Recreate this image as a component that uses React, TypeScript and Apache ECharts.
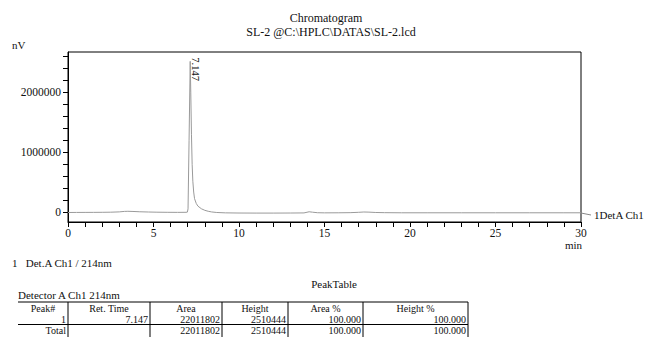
import React, { useEffect, useRef } from "react";
import * as echarts from "echarts";

// ---- data ----
const times = [0, 0.5, 1, 1.5, 2, 2.5, 3, 3.3, 3.5, 3.8, 4.2, 4.7, 5.2, 5.8, 6.4, 6.9, 6.98, 7.02, 7.08, 7.147, 7.18, 7.22, 7.26, 7.3, 7.35, 7.4, 7.5, 7.6, 7.8, 8.0, 8.2, 8.4, 8.7, 9.2, 10, 11, 12, 13, 13.8, 14.1, 14.3, 14.6, 15, 15.8, 16.5, 17, 17.3, 17.6, 18, 18.5, 19.5, 21, 23, 25, 27, 29, 30];
const signal = [0, 1000, 1500, 2000, 3000, 5000, 10000, 18000, 20000, 17000, 12000, 8000, 5000, 3000, 2000, 3000, 6000, 60000, 1200000, 2510444, 2000000, 1300000, 800000, 520000, 340000, 230000, 150000, 105000, 62000, 36000, 20000, 9000, 0, -6000, -9000, -10000, -10000, -9000, -7000, 12000, 5000, -4000, -6000, -5000, -3000, 3000, 8000, 6000, 0, -3000, -5000, -5000, -5000, -5000, -5000, -5000, -5000];
const peakTime = 7.147;
const peakHeight = 2510444;
const yLabelValues = [0, 1000000, 2000000];
const yTickValues = [0, 200000, 400000, 600000, 800000, 1000000, 1200000, 1400000, 1600000, 1800000, 2000000, 2200000, 2400000, 2600000];
const xTickValues = Array.from({ length: 31 }, (_, i) => i);

const titleLines = ["Chromatogram", "SL-2 @C:\\HPLC\\DATAS\\SL-2.lcd"];
const channelName = "1DetA Ch1";
const detectorNote = "1   Det.A Ch1 / 214nm";
const tableTitle = "PeakTable";
const tableDetector = "Detector A Ch1 214nm";
const tableHeaders = ["Peak#", "Ret. Time", "Area", "Height", "Area %", "Height %"];
const tableRow1 = ["1", "7.147", "22011802", "2510444", "100.000", "100.000"];
const tableTotal = ["Total", "", "22011802", "2510444", "100.000", "100.000"];

const FONT = "Liberation Serif";

export default function App() {
  const ref = useRef<HTMLDivElement>(null);
  useEffect(() => {
    if (!ref.current) return;
    const chart = echarts.init(ref.current, null, { renderer: "svg" });

    const colX = [18, 68, 150, 222, 288, 363, 468];
    const tTop = 302;
    const tBottom = 337;
    const headerY = 308.5;
    const row1Y = 319;
    const midLineY = 324.5;
    const totalY = 330.5;
    const txt = (text: string, x: number, y: number, align: string, size = 11) => ({
      type: "text",
      x,
      y,
      silent: true,
      style: { text, fill: "#111", fontFamily: FONT, fontSize: size, align, verticalAlign: "middle" },
    });
    const line = (x1: number, y1: number, x2: number, y2: number, color = "#000") => ({
      type: "line",
      silent: true,
      shape: { x1, y1, x2, y2 },
      style: { stroke: color, lineWidth: 1 },
    });

    const graphics: any[] = [];
    graphics.push(txt(titleLines[0], 326, 18, "center", 12));
    graphics.push(txt(titleLines[1], 331, 32, "center", 12));
    graphics.push(txt("nV", 12, 45, "left"));
    graphics.push(txt("min", 582, 245, "right"));
    graphics.push(line(581, 213, 591, 215, "#888"));
    graphics.push(txt(channelName, 594, 215, "left"));
    graphics.push(txt(detectorNote, 12, 263, "left"));
    graphics.push(txt(tableTitle, 334, 284, "center"));
    graphics.push(txt(tableDetector, 18, 295, "left"));
    graphics.push(line(colX[0], tTop, colX[6], tTop));
    graphics.push(line(colX[0], midLineY, colX[6], midLineY));
    for (let i = 1; i < colX.length; i++) graphics.push(line(colX[i], tTop, colX[i], tBottom));
    tableHeaders.forEach((h, i) => graphics.push(txt(h, (colX[i] + colX[i + 1]) / 2, headerY, "center", 10)));
    tableRow1.forEach((v, i) => { if (v) graphics.push(txt(v, colX[i + 1] - 2, row1Y, "right", 10)); });
    tableTotal.forEach((v, i) => { if (v) graphics.push(txt(v, colX[i + 1] - 2, totalY, "right", 10)); });

    chart.setOption({
      animation: false,
      grid: { left: 68, right: 67, top: 52, height: 170, show: true, borderColor: "#000", borderWidth: 1, backgroundColor: "transparent" },
      xAxis: {
        type: "value",
        min: 0,
        max: 30,
        interval: 5,
        axisLine: { onZero: false, lineStyle: { color: "#000", width: 1 } },
        axisTick: { customValues: xTickValues, length: 5, lineStyle: { color: "#000" } },
        axisLabel: { margin: 5, color: "#111", fontFamily: FONT, fontSize: 11.5 },
        splitLine: { show: false },
      },
      yAxis: {
        type: "value",
        min: -158000,
        max: 2666000,
        axisLine: { show: true, lineStyle: { color: "#000", width: 1 } },
        axisTick: { show: true, customValues: yTickValues, length: 5, lineStyle: { color: "#000" } },
        axisLabel: {
          customValues: yLabelValues,
          formatter: (v: number) => String(Math.round(v)),
          margin: 7,
          color: "#111",
          fontFamily: FONT,
          fontSize: 11.5,
        },
        splitLine: { show: false },
      },
      series: [
        {
          type: "line",
          data: times.map((t, i) => [t, signal[i]]),
          showSymbol: false,
          symbol: "none",
          silent: true,
          lineStyle: { color: "#9a9a9a", width: 1 },
          markPoint: {
            symbol: "circle",
            symbolSize: 0,
            silent: true,
            data: [{ coord: [peakTime, peakHeight] }],
            label: {
              show: true,
              formatter: peakTime.toFixed(3),
              position: [5, -4],
              rotate: -90,
              align: "left",
              verticalAlign: "middle",
              color: "#111",
              fontFamily: FONT,
              fontSize: 10.5,
            },
          },
        },
      ],
      graphic: graphics,
    });
    return () => chart.dispose();
  }, []);
  return <div ref={ref} style={{ position: "fixed", left: 0, top: 0, width: 648, height: 338, background: "#fff" }} />;
}
